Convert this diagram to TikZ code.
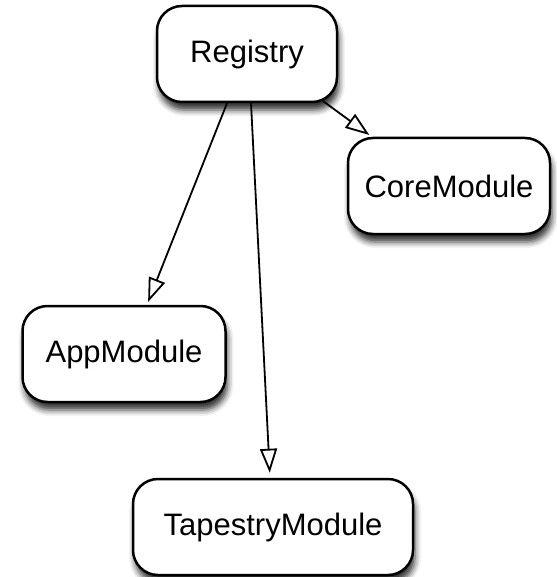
\documentclass[tikz,border=0pt]{standalone}
\usepackage{fontspec}
\setmainfont{Liberation Sans}
\usetikzlibrary{arrows.meta,shadows.blur}
\tikzset{
	module/.style={draw=black, line width=2.5pt, fill=white, rounded corners=25pt,
		minimum height=96pt, font=\fontsize{31}{36}\selectfont,
		blur shadow={shadow xshift=2pt, shadow yshift=-8pt, shadow blur radius=6pt, shadow opacity=80}},
	uses/.style={line width=1.8pt, -{Triangle[open, length=24pt, width=17pt, line width=1.8pt]}}
}

\begin{document}
\begin{tikzpicture}[x=1pt, y=-1pt]
		%%%%% START %%%%%
		\useasboundingbox (0, 0) rectangle (556, 577);
		
		\node[module, minimum width=180pt] (registry) at (247, 54) {Registry};
		\node[module, minimum width=202pt] (core) at (449, 186) {CoreModule};
		\node[module, minimum width=203pt] (app) at (124, 354) {AppModule};
		\node[module, minimum width=280pt] (tapestry) at (273, 527) {TapestryModule};
		
		\draw[uses, shorten >=3pt] ([xshift=-20pt]registry.south) -- ([xshift=23pt]app.north);
		\draw[uses, shorten >=5pt] ([xshift=4pt]registry.south) -- ([xshift=-3pt]tapestry.north);
		\draw[uses, shorten >=3pt] ([shift={(-15pt, 2pt)}]registry.south east) -- ([xshift=25pt]core.north west);
		%%%%% END %%%%%
	\end{tikzpicture}
\end{document}
